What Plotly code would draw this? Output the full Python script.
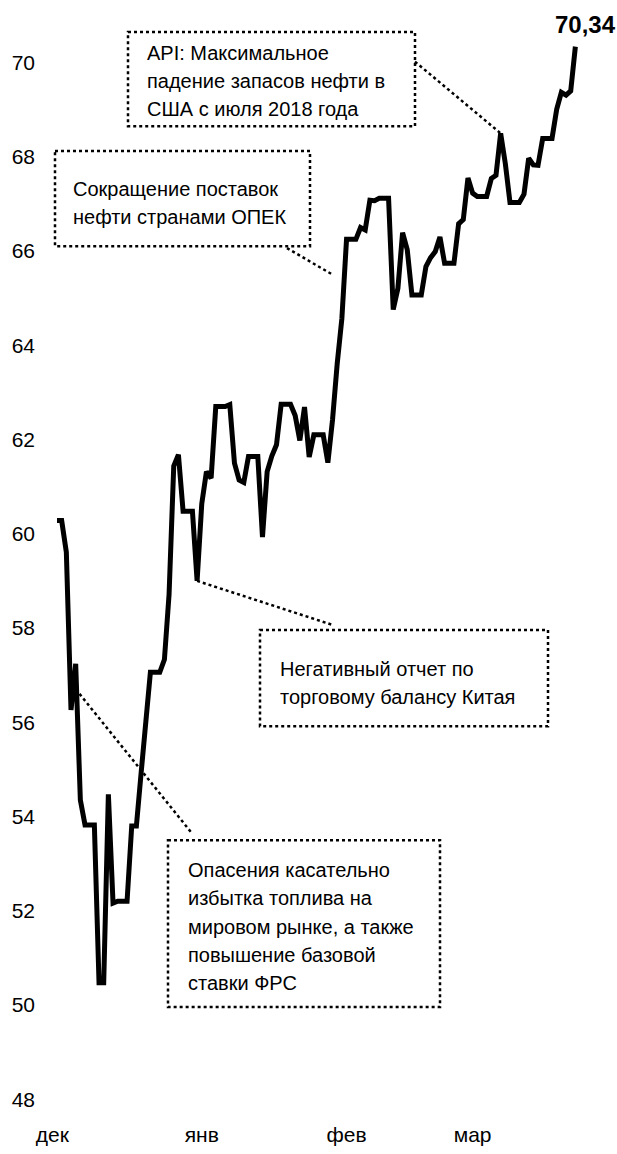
import pandas as pd
import plotly.graph_objects as go

# ---- data (daily, weekends carry the previous close as drawn) ----
start_date = "2018-12-15"
prices = [
    60.28, 60.28, 59.61, 56.26, 57.24, 54.35, 53.82, 53.82, 53.82, 50.47,
    50.47, 54.47, 52.16, 52.20, 52.20, 52.20, 53.80, 53.80, 54.91, 55.95,
    57.06, 57.06, 57.06, 57.33, 58.72, 61.44, 61.68, 60.48, 60.48, 60.48,
    59.00, 60.64, 61.32, 61.18, 62.70, 62.70, 62.70, 62.74, 61.50, 61.14,
    61.09, 61.64, 61.64, 61.64, 59.93, 61.32, 61.65, 61.89, 62.75, 62.75,
    62.75, 62.51, 61.98, 62.69, 61.63, 62.10, 62.10, 62.10, 61.51, 62.42,
    63.61, 64.57, 66.25, 66.25, 66.25, 66.50, 66.45, 67.08, 67.07, 67.12,
    67.12, 67.12, 64.76, 65.21, 66.39, 66.03, 65.07, 65.07, 65.07, 65.67,
    65.86, 65.99, 66.30, 65.74, 65.74, 65.74, 66.58, 66.67, 67.55, 67.23,
    67.16, 67.16, 67.16, 67.54, 67.61, 68.50, 67.86, 67.03, 67.03, 67.03,
    67.21, 67.97, 67.83, 67.82, 68.39, 68.39, 68.39, 69.01, 69.37, 69.31,
    69.40, 70.34,
]
month_tick_dates = ["2018-12-14", "2019-01-15", "2019-02-15", "2019-03-14"]
month_labels = ["дек", "янв", "фев", "мар"]
y_ticks = [48, 50, 52, 54, 56, 58, 60, 62, 64, 66, 68, 70]
last_label = "70,34"

note_api = ["API: Максимальное", "падение запасов нефти в", "США с июля 2018 года"]
note_opec = ["Сокращение поставок", "нефти странами ОПЕК"]
note_china = ["Негативный отчет по", "торговому балансу Китая"]
note_fed = ["Опасения касательно", "избытка топлива на", "мировом рынке, а также",
            "повышение базовой", "ставки ФРС"]

dates = pd.date_range(start_date, periods=len(prices), freq="D")

# ---- layout geometry ----
W, H = 617, 1154
L, R, T, B = 36, 8, 20, 25
PXD = 4.67          # pixels per day
X0PX = 57           # pixel of first date
PXU = 47.5          # pixels per unit
Y70 = 63            # pixel of 70
ymax = 70 + (Y70 - T) / PXU
ymin = ymax - (H - T - B) / PXU
d0 = pd.Timestamp(start_date)


def px2date(px):
    return d0 + pd.Timedelta(days=(px - X0PX) / PXD)


def px2val(py):
    return ymax - (py - T) / PXU


FONT = "Liberation Sans Narrow, Arial Narrow, Liberation Sans, Arial, sans-serif"
NOTE_SIZE = 20
LINE_GAP = 28.5

fig = go.Figure()
fig.add_trace(go.Scatter(
    x=dates, y=prices, mode="lines",
    line=dict(color="black", width=5),
    hoverinfo="skip", showlegend=False,
))

shapes = []
annotations = []
dot = dict(color="black", width=2.5, dash="dot")


def box(x0, y0, x1, y1):
    shapes.append(dict(type="rect", xref="x", yref="y",
                       x0=px2date(x0), x1=px2date(x1),
                       y0=px2val(y0), y1=px2val(y1),
                       line=dot, fillcolor="rgba(0,0,0,0)", layer="above"))


def seg(xa, ya, xb, yb):
    shapes.append(dict(type="line", xref="x", yref="y",
                       x0=xa, y0=ya, x1=xb, y1=yb, line=dot, layer="above"))


def note(lines, left_px, first_py):
    for k, txt in enumerate(lines):
        annotations.append(dict(text=txt, xref="x", yref="y",
                                x=px2date(left_px), y=px2val(first_py + k * LINE_GAP),
                                xanchor="left", yanchor="middle", align="left",
                                showarrow=False, borderpad=0,
                                font=dict(family=FONT, size=NOTE_SIZE, color="black")))


# API box
box(128, 32, 415, 127)
note(note_api, 146, 53)
i_api = prices.index(68.50)
seg(px2date(415), px2val(62), dates[i_api], prices[i_api])

# OPEC box
box(55, 152, 310, 248)
note(note_opec, 72, 190)
seg(px2date(287), px2val(250), px2date(333), px2val(277))

# China box
box(260, 635, 548, 732)
note(note_china, 279, 674)
i_cn = prices.index(59.00)
seg(dates[i_cn], prices[i_cn], px2date(333), px2val(630))

# Fed box
box(168, 847, 440, 1015)
note(note_fed, 187, 877)
seg(px2date(72), px2val(690), px2date(192), px2val(840))

# last value label
annotations.append(dict(text="<b>" + last_label + "</b>", xref="x", yref="y",
                        x=dates[-1], y=prices[-1], xanchor="center",
                        yanchor="bottom", xshift=10, yshift=8, showarrow=False,
                        borderpad=0,
                        font=dict(family=FONT, size=24, color="black")))

fig.update_layout(
    width=W, height=H,
    margin=dict(l=L, r=R, t=T, b=B, pad=0),
    paper_bgcolor="white", plot_bgcolor="white",
    shapes=shapes, annotations=annotations,
    showlegend=False,
    font=dict(family=FONT, size=21, color="black"),
    xaxis=dict(type="date", range=[px2date(L), px2date(W - R)],
               tickmode="array", tickvals=month_tick_dates, ticktext=month_labels,
               showgrid=False, zeroline=False, showline=False, ticks="",
               tickfont=dict(family=FONT, size=21, color="black")),
    yaxis=dict(range=[ymin, ymax], tickmode="array", tickvals=y_ticks,
               ticktext=[str(v) for v in y_ticks],
               showgrid=False, zeroline=False, showline=False, ticks="",
               tickfont=dict(family=FONT, size=21, color="black")),
)

fig.write_html("out.html", include_plotlyjs=True, full_html=True,
               config={"displayModeBar": False},
               post_script="document.body.style.margin='0';")
